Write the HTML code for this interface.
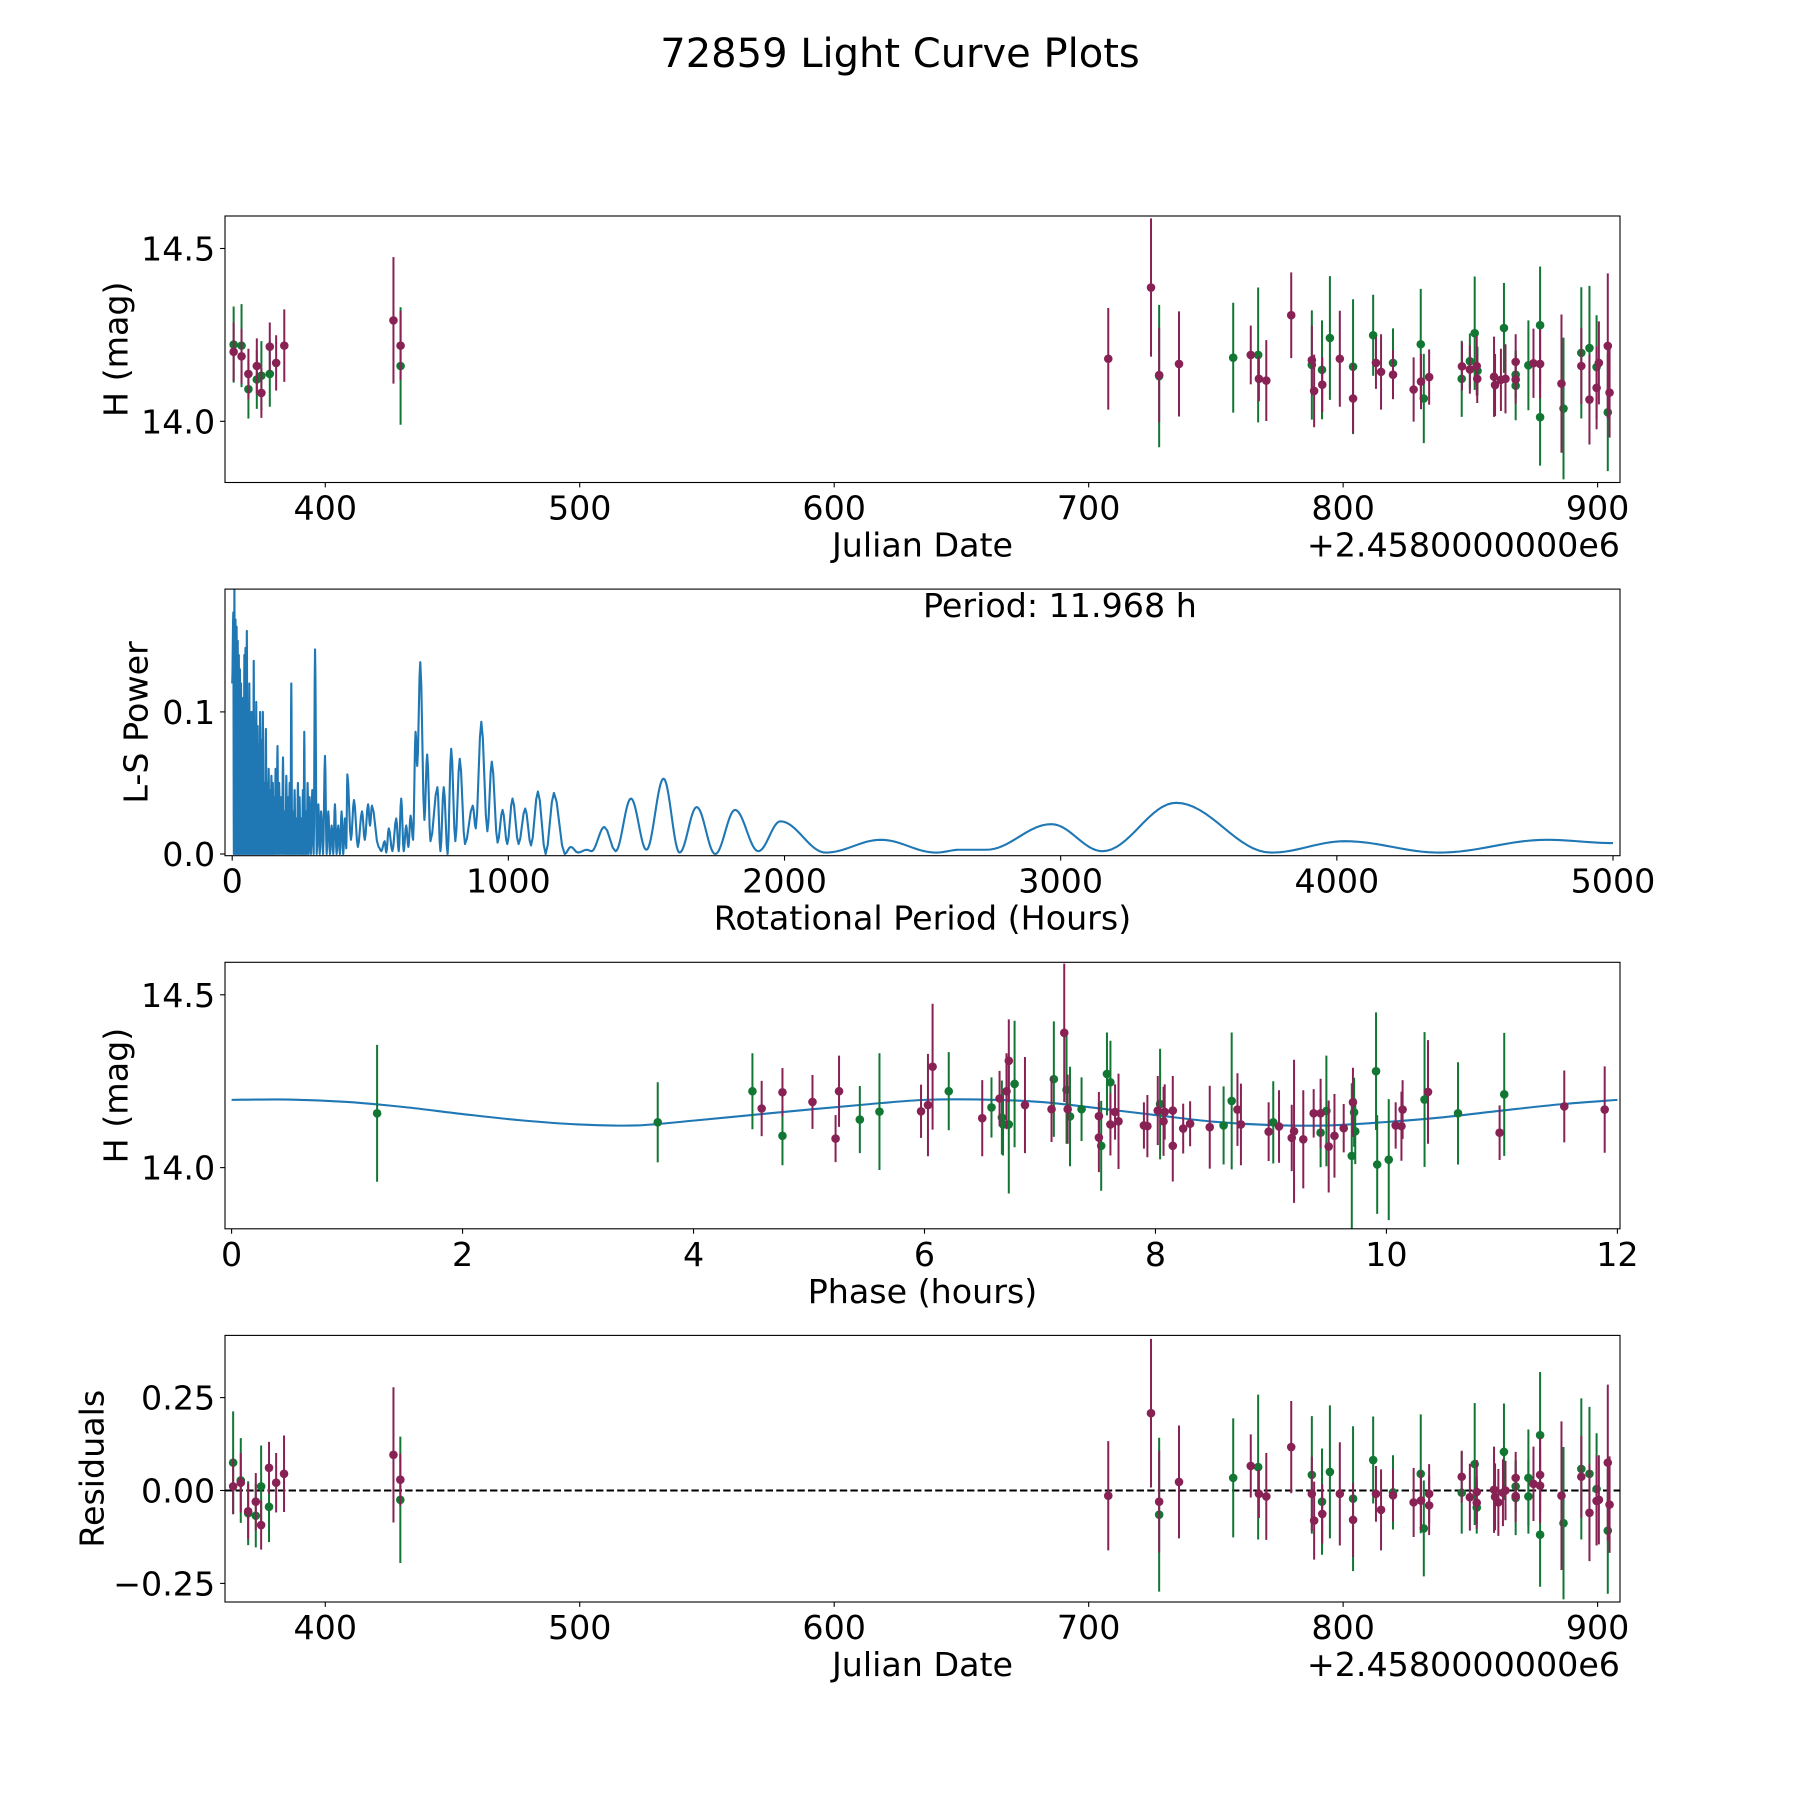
<!DOCTYPE html>
<html><head><meta charset="utf-8"><title>72859 Light Curve Plots</title>
<style>
html,body{margin:0;padding:0;background:#fff;}
svg{display:block;font-family:"DejaVu Sans","Liberation Sans",sans-serif;}
</style></head>
<body>
<svg id="fig" width="1800" height="1800" viewBox="0 0 1800 1800" xmlns="http://www.w3.org/2000/svg">
<rect width="1800" height="1800" fill="#fff"/>
<text x="900" y="67" font-size="40" text-anchor="middle" fill="#000">72859 Light Curve Plots</text>
</svg>
<script>
// ---------- Panel 1: light curve (Julian date) ----------
const p1Days = [364.0,364.0,367.1,367.1,369.8,369.8,373.1,373.1,374.9,374.9,378.2,378.2,380.7,383.9,426.8,429.6,429.6,
707.7,724.5,727.7,727.7,735.5,756.8,763.7,766.6,766.9,769.8,779.6,787.7,787.7,788.6,791.7,791.8,794.8,798.7,803.9,803.9,
811.8,812.9,814.9,819.6,819.6,827.7,830.5,830.6,831.7,833.8,846.6,846.7,849.8,849.8,851.7,852.5,852.8,852.7,859.3,859.7,
862.0,863.2,863.8,867.8,867.8,867.8,867.8,872.8,874.8,877.4,877.4,877.4,885.8,886.6,893.6,893.6,896.8,896.8,899.6,899.6,
900.5,904.0,904.0,904.7];
const p1Mags = [14.222,14.201,14.219,14.188,14.137,14.093,14.160,14.121,14.132,14.082,14.137,14.216,14.169,14.219,14.292,14.219,14.160,
14.181,14.387,14.131,14.134,14.166,14.184,14.192,14.192,14.123,14.118,14.307,14.163,14.177,14.088,14.149,14.106,14.241,14.181,14.158,14.066,
14.249,14.169,14.143,14.169,14.135,14.092,14.223,14.115,14.066,14.128,14.123,14.159,14.174,14.150,14.255,14.160,14.146,14.123,14.129,14.105,
14.120,14.270,14.123,14.172,14.135,14.121,14.103,14.162,14.168,14.278,14.012,14.166,14.109,14.037,14.198,14.160,14.212,14.063,14.157,14.097,
14.169,14.218,14.026,14.083];
const p1Errs = [0.11,0.085,0.12,0.08,0.073,0.085,0.08,0.085,0.10,0.072,0.095,0.07,0.08,0.105,0.183,0.10,0.17,
0.147,0.20,0.206,0.137,0.152,0.159,0.085,0.195,0.065,0.117,0.124,0.158,0.10,0.105,0.143,0.08,0.179,0.139,0.195,0.10,
0.117,0.075,0.109,0.10,0.071,0.093,0.16,0.08,0.129,0.08,0.11,0.07,0.08,0.07,0.164,0.086,0.07,0.07,0.116,0.09,
0.09,0.13,0.10,0.08,0.07,0.07,0.10,0.13,0.10,0.17,0.14,0.10,0.20,0.205,0.19,0.11,0.18,0.13,0.15,0.12,
0.12,0.21,0.17,0.13];
const p1Filters = ['g','m','g','m','m','g','m','g','g','m','g','m','m','m','m','m','g',
'm','m','g','m','m','g','m','g','m','m','m','g','m','m','g','m','g','m','g','m',
'g','m','m','g','m','m','g','m','g','m','g','m','g','m','g','m','g','m','m','m',
'm','g','m','m','g','m','g','g','m','g','g','m','m','g','g','m','g','m','g','m',
'm','m','g','m'];
const p1XTicks = [400,500,600,700,800,900];
const p1YTicks = [14.0,14.5];
const p1YTickLabels = ['14.0','14.5'];

// ---------- Panel 2: Lomb-Scargle periodogram ----------
const lsDensePeriods = [4,8,12,16,20,24,28,32,36,40,44,48,53,58,62,66,70,74,78,82,87,92,97,101,106,111,116,122,127,132,137,142,147,152,157,164,170,176,184,190,196,202,208,214,220,226,232,238,244,250,256,261,267,273,280,290,300,312,322,336,348,360,372,384,396,408];
const lsDensePowers = [0.17,0.19,0.165,0.16,0.15,0.14,0.13,0.12,0.10,0.11,0.14,0.145,0.157,0.09,0.12,0.08,0.10,0.07,0.136,0.06,0.107,0.09,0.06,0.10,0.08,0.10,0.05,0.088,0.05,0.06,0.045,0.055,0.05,0.04,0.06,0.076,0.05,0.04,0.068,0.03,0.055,0.04,0.05,0.12,0.03,0.045,0.025,0.05,0.04,0.025,0.045,0.086,0.03,0.05,0.04,0.045,0.144,0.035,0.03,0.069,0.03,0.02,0.035,0.02,0.03,0.025];
const lsSmoothPeriods = [413,417,430,441,455,470,480,492,499,506,530,540,552,558,567,580,594,603,612,621,630,638,646,655,664,670,681,696,706,718,743,754,766,780,793,808,824,843,871,882,902,924,940,961,979,996,1015,1037,1061,1082,1107,1135,1165,1204,1226,1252,1284,1301,1348,1388,1444,1500,1562,1620,1682,1749,1821,1905,1985,2149,2349,2549,2635,2731,2966,3151,3418,3762,4029,4372,4760,5000];
const lsSmoothPowers = [0.004,0.056,0.01,0.038,0.005,0.03,0.01,0.035,0.02,0.034,0.005,0.002,0.009,0.001,0.018,0.002,0.025,0.002,0.039,0.002,0.02,0.005,0.027,0.01,0.086,0.062,0.135,0.024,0.07,0.009,0.047,0.002,0.047,0.0,0.074,0.009,0.067,0.007,0.034,0.018,0.093,0.016,0.065,0.008,0.031,0.007,0.039,0.007,0.032,0.006,0.044,0.0,0.043,0.0,0.005,0.001,0.003,0.002,0.019,0.002,0.039,0.003,0.053,0.001,0.033,0.0,0.031,0.002,0.023,0.001,0.010,0.001,0.003,0.003,0.021,0.002,0.036,0.001,0.009,0.001,0.010,0.0077];
const p2XTicks = [0,1000,2000,3000,4000,5000];
const p2YTicks = [0.0,0.1];
const p2YTickLabels = ['0.0','0.1'];

// ---------- Panel 3: phased light curve ----------
const p3Phases = [1.26,3.69,4.51,4.59,4.77,4.77,5.03,5.23,5.26,5.44,5.61,
5.97,6.03,6.07,6.21,6.50,6.58,6.65,6.67,6.68,6.71,6.73,6.73,6.78,6.87,7.10,7.12,7.21,7.23,7.24,7.26,7.36,7.51,7.51,7.53,7.58,7.61,7.61,7.65,7.68,
7.90,7.93,8.02,8.04,8.07,8.08,8.15,8.15,8.24,8.30,8.47,8.59,8.66,8.71,8.74,8.98,9.02,9.07,9.18,9.20,9.28,9.37,9.43,9.43,9.48,9.50,9.55,9.63,
9.70,9.71,9.72,9.73,9.91,9.92,10.02,10.08,10.13,10.14,10.33,10.36,10.62,10.98,11.02,11.54,11.89];
const p3Mags = [14.157,14.131,14.221,14.171,14.218,14.092,14.190,14.084,14.221,14.139,14.162,
14.163,14.181,14.292,14.221,14.143,14.174,14.200,14.145,14.125,14.221,14.309,14.125,14.242,14.181,14.169,14.256,14.390,14.225,14.169,14.148,14.169,14.149,14.087,14.063,14.271,14.247,14.125,14.161,14.134,
14.122,14.120,14.165,14.184,14.134,14.161,14.165,14.063,14.113,14.127,14.117,14.122,14.193,14.168,14.125,14.104,14.131,14.119,14.086,14.105,14.082,14.157,14.101,14.157,14.164,14.061,14.092,14.114,
14.034,14.189,14.160,14.105,14.279,14.009,14.023,14.122,14.120,14.168,14.197,14.219,14.157,14.101,14.212,14.177,14.168];
const p3Errs = [0.198,0.116,0.11,0.08,0.07,0.085,0.078,0.068,0.103,0.097,0.169,
0.077,0.148,0.182,0.113,0.11,0.087,0.08,0.107,0.09,0.11,0.12,0.20,0.183,0.139,0.095,0.167,0.20,0.156,0.10,0.144,0.092,0.07,0.10,0.13,0.12,0.12,0.09,0.08,0.138,
0.067,0.09,0.10,0.16,0.10,0.08,0.10,0.103,0.072,0.065,0.12,0.113,0.198,0.105,0.118,0.085,0.119,0.105,0.096,0.207,0.142,0.07,0.10,0.10,0.16,0.133,0.121,0.07,
0.21,0.10,0.10,0.095,0.17,0.143,0.175,0.067,0.10,0.085,0.195,0.15,0.148,0.079,0.178,0.104,0.125];
const p3Filters = ['g','g','g','m','m','g','m','m','m','g','g',
'm','m','m','g','m','g','m','g','g','m','m','g','g','m','m','g','m','g','m','g','g','m','m','g','g','g','m','m','m',
'm','m','m','g','m','m','m','m','m','m','m','g','g','m','m','m','g','m','m','m','m','m','g','m','g','m','m','m',
'g','m','g','g','g','g','g','m','m','m','g','m','g','m','g','m','m'];
const modelPhases = [0,0.5,1,1.5,2,2.5,3,3.5,4,4.5,5,5.5,6,6.5,7,7.5,8,8.5,9,9.5,10,10.5,11,11.5,12];
const modelMags = [14.196,14.197,14.190,14.175,14.155,14.137,14.125,14.122,14.136,14.152,14.168,14.183,14.196,14.197,14.190,14.172,14.152,14.133,14.123,14.122,14.132,14.146,14.165,14.183,14.196];
const p3XTicks = [0,2,4,6,8,10,12];
const p3YTicks = [14.0,14.5];
const p3YTickLabels = ['14.0','14.5'];

// ---------- Panel 4: residuals ----------
const p4Days = [363.8,363.8,366.8,366.8,369.7,369.7,372.7,372.7,374.8,374.8,377.9,377.9,380.7,383.8,426.8,429.5,429.5,
707.7,724.5,727.7,727.7,735.5,756.8,763.7,766.6,766.9,769.8,779.6,787.7,787.7,788.6,791.7,791.8,794.8,798.7,803.9,803.9,
811.8,812.9,814.9,819.6,819.6,827.7,830.5,830.6,831.7,833.8,833.8,846.6,846.6,849.8,851.7,852.5,852.5,852.5,859.3,859.7,
861.0,862.8,863.2,863.8,867.8,867.8,867.8,867.8,872.8,872.8,874.8,877.4,877.4,877.4,877.4,885.8,886.6,893.6,893.6,896.8,896.8,
899.6,899.6,900.5,904.0,904.0,904.7];
const p4Resid = [0.075,0.011,0.027,0.021,-0.061,-0.056,-0.030,-0.068,0.011,-0.093,0.061,-0.044,0.021,0.045,0.096,0.029,-0.025,
-0.014,0.208,-0.030,-0.065,0.023,0.034,0.066,0.063,-0.009,-0.016,0.117,0.042,-0.009,-0.081,-0.030,-0.063,0.050,-0.009,-0.022,-0.079,
0.082,-0.009,-0.052,-0.005,-0.013,-0.032,0.045,-0.027,-0.102,-0.009,-0.040,0.037,-0.006,-0.018,0.071,-0.004,-0.033,-0.046,0.002,-0.017,
-0.032,-0.006,0.104,0.000,0.034,0.011,-0.015,-0.020,0.034,-0.016,0.018,0.149,0.042,0.013,-0.119,-0.014,-0.088,0.058,0.037,0.045,-0.060,
0.004,-0.028,-0.025,0.075,-0.108,-0.038];
const p4Errs = [0.138,0.075,0.114,0.08,0.086,0.075,0.077,0.085,0.11,0.066,0.07,0.095,0.08,0.103,0.182,0.07,0.17,
0.147,0.20,0.137,0.207,0.152,0.16,0.085,0.195,0.065,0.117,0.124,0.158,0.10,0.105,0.143,0.08,0.179,0.139,0.195,0.10,
0.117,0.075,0.109,0.10,0.071,0.093,0.16,0.08,0.129,0.08,0.08,0.07,0.11,0.09,0.164,0.086,0.07,0.07,0.116,0.09,
0.09,0.09,0.13,0.08,0.07,0.07,0.07,0.10,0.13,0.10,0.10,0.17,0.10,0.10,0.14,0.20,0.205,0.19,0.11,0.18,0.13,
0.15,0.12,0.12,0.21,0.17,0.13];
const p4Filters = ['g','m','g','m','g','m','m','g','g','m','m','g','m','m','m','m','g',
'm','m','m','g','m','g','m','g','m','m','m','g','m','m','g','m','g','m','g','m',
'g','m','m','g','m','m','g','m','g','m','m','m','g','m','g','m','m','g','m','m',
'm','m','g','m','m','g','m','g','g','g','m','g','m','m','g','m','g','g','m','g','m',
'g','m','m','m','g','m'];
const p4YTicks = [-0.25,0.0,0.25];
const p4YTickLabels = ['\u22120.25','0.00','0.25'];

const COLORS = {g:'#117733', m:'#882255'};
const NS = 'http://www.w3.org/2000/svg';
const svg = document.getElementById('fig');
const FS = 33.3;

function mk(tag, attrs, parent){
  const e = document.createElementNS(NS, tag);
  for (const k in attrs) e.setAttribute(k, attrs[k]);
  (parent||svg).appendChild(e);
  return e;
}
function scale(d0,d1,r0,r1){ return v => r0 + (v-d0)/(d1-d0)*(r1-r0); }

function axesFrame(name){
  const g = mk('g', {});
  
  
  return g;
}
function spines(g, L, T, R, B){
  const r = mk('rect', {x:L, y:T, width:R-L, height:B-T, fill:'none', stroke:'#000', 'stroke-width':1.1}, g);
  
  
}
function xTicks(g, ticks, labels, sx, B){
  ticks.forEach((t,i) => {
    const x = sx(t);
    const ln = mk('line', {x1:x, x2:x, y1:B, y2:B+4.9, stroke:'#000', 'stroke-width':1.1}, g);
    
    
    const tx = mk('text', {x:x, y:B+37, 'font-size':FS, 'text-anchor':'middle', fill:'#000'}, g);
    tx.textContent = labels[i];
    
    
  });
}
function yTicks(g, ticks, labels, sy, L){
  ticks.forEach((t,i) => {
    const y = sy(t);
    const ln = mk('line', {x1:L-4.9, x2:L, y1:y, y2:y, stroke:'#000', 'stroke-width':1.1}, g);
    
    
    const tx = mk('text', {x:L-9.8, y:y+12, 'font-size':FS, 'text-anchor':'end', fill:'#000'}, g);
    tx.textContent = labels[i];
    
    
  });
}
function xLabel(g, text, B, name){
  const tx = mk('text', {x:922.5, y:B+74, 'font-size':FS, 'text-anchor':'middle', fill:'#000'}, g);
  tx.textContent = text;
  
  
}
function yLabel(g, text, x, T, B, name){
  const cy = (T+B)/2;
  const tx = mk('text', {x:x, y:cy, 'font-size':FS, 'text-anchor':'middle', 'dominant-baseline':'central', fill:'#000', transform:'rotate(-90 '+x+' '+cy+')'}, g);
  tx.textContent = text;
  
  
}
function offsetText(g, B){
  const tx = mk('text', {x:1620, y:B+74, 'font-size':FS, 'text-anchor':'end', fill:'#000'}, g);
  tx.textContent = '+2.4580000000e6';
  
  
}
function clip(id, L, T, R, B){
  const cp = mk('clipPath', {id:id});
  mk('rect', {x:L, y:T, width:R-L, height:B-T}, cp);
}
function errorPoints(g, xs, ys, errs, filters, sx, sy, clipId){
  const pg = mk('g', {'clip-path':'url(#'+clipId+')'}, g);
  
  
  ['g','m'].forEach(f => {
    xs.forEach((xv,i) => {
      if (filters[i] !== f) return;
      const x = sx(xv), y1 = sy(ys[i]-errs[i]), y2 = sy(ys[i]+errs[i]);
      const eb = mk('line', {x1:x, x2:x, y1:y1, y2:y2, stroke:COLORS[f], 'stroke-width':2}, pg);
      
      
    });
    xs.forEach((xv,i) => {
      if (filters[i] !== f) return;
      const c = mk('circle', {cx:sx(xv), cy:sy(ys[i]), r:4.3, fill:COLORS[f]}, pg);
      
      
    });
  });
}

// ===== Panel 1 =====
(function(){
  const L=225,R=1620,T=216,B=482.5;
  const sx = scale(360.6, 908.8, L, R), sy = scale(13.823, 14.594, B, T);
  const g = axesFrame('light-curve-panel');
  clip('c1', L,T,R,B);
  errorPoints(g, p1Days, p1Mags, p1Errs, p1Filters, sx, sy, 'c1');
  spines(g, L,T,R,B);
  xTicks(g, p1XTicks, p1XTicks.map(String), sx, B);
  yTicks(g, p1YTicks, p1YTickLabels, sy, L);
  xLabel(g, 'Julian Date', B, 'x-axis-title-julian-date');
  offsetText(g, B);
  yLabel(g, 'H (mag)', 116, T, B, 'y-axis-title-h-mag');
})();

// ===== Panel 2 =====
(function(){
  const L=225,R=1620,T=589.1,B=855.7;
  const sx = scale(0, 5000, 232.2, 1613), sy = scale(0, 0.1, 854, 711.9);
  const g = axesFrame('periodogram-panel');
  clip('c2', L,T,R,B);
  const ex = [[0,0.12]];
  for (let i=0;i<lsDensePeriods.length;i++){
    ex.push([lsDensePeriods[i], lsDensePowers[i]]);
    if (i+1<lsDensePeriods.length) ex.push([(lsDensePeriods[i]+lsDensePeriods[i+1])/2, 0]);
  }
  for (let i=0;i<lsSmoothPeriods.length;i++) ex.push([lsSmoothPeriods[i], lsSmoothPowers[i]]);
  let d = '';
  for (let i=0;i<ex.length;i++){
    if (i===0){ d += 'M'+sx(ex[0][0]).toFixed(2)+' '+sy(ex[0][1]).toFixed(2); continue; }
    const a = ex[i-1], b = ex[i];
    const n = (b[0]-a[0]) > 40 ? 16 : 4;
    for (let k=1;k<=n;k++){
      const t = k/n, w = (1-Math.cos(Math.PI*t))/2;
      const px = a[0]+(b[0]-a[0])*t, py = a[1]+(b[1]-a[1])*w;
      d += ' L'+sx(px).toFixed(2)+' '+sy(py).toFixed(2);
    }
  }
  const cg = mk('g', {'clip-path':'url(#c2)'}, g);
  const p = mk('path', {d:d, fill:'none', stroke:'#1f77b4', 'stroke-width':2.1, 'stroke-linejoin':'round'}, cg);
  
  
  spines(g, L,T,R,B);
  xTicks(g, p2XTicks, p2XTicks.map(String), sx, B);
  yTicks(g, p2YTicks, p2YTickLabels, sy, L);
  xLabel(g, 'Rotational Period (Hours)', B, 'x-axis-title-rotational-period');
  yLabel(g, 'L-S Power', 136, T, B, 'y-axis-title-ls-power');
  const ann = mk('text', {x:923, y:617, 'font-size':FS, 'text-anchor':'start', fill:'#000'}, g);
  ann.textContent = 'Period: 11.968 h';
  
  
})();

// ===== Panel 3 =====
(function(){
  const L=225,R=1620,T=962.3,B=1228.8;
  const sx = scale(0, 12, 231.6, 1617.4), sy = scale(13.823, 14.594, B, T);
  const g = axesFrame('phase-folded-panel');
  clip('c3', L,T,R,B);
  const pts = modelPhases.map((p,i)=>[sx(p), sy(modelMags[i])]);
  let d = 'M'+pts[0][0]+' '+pts[0][1];
  for (let i=0;i<pts.length-1;i++){
    const p0 = pts[Math.max(0,i-1)], p1 = pts[i], p2 = pts[i+1], p3 = pts[Math.min(pts.length-1,i+2)];
    const c1x = p1[0]+(p2[0]-p0[0])/6, c1y = p1[1]+(p2[1]-p0[1])/6;
    const c2x = p2[0]-(p3[0]-p1[0])/6, c2y = p2[1]-(p3[1]-p1[1])/6;
    d += ' C'+c1x+' '+c1y+' '+c2x+' '+c2y+' '+p2[0]+' '+p2[1];
  }
  const cg = mk('g', {'clip-path':'url(#c3)'}, g);
  const m = mk('path', {d:d, fill:'none', stroke:'#1f77b4', 'stroke-width':2.1}, cg);
  
  
  errorPoints(g, p3Phases, p3Mags, p3Errs, p3Filters, sx, sy, 'c3');
  spines(g, L,T,R,B);
  xTicks(g, p3XTicks, p3XTicks.map(String), sx, B);
  yTicks(g, p3YTicks, p3YTickLabels, sy, L);
  xLabel(g, 'Phase (hours)', B, 'x-axis-title-phase');
  yLabel(g, 'H (mag)', 116, T, B, 'y-axis-title-h-mag-phase');
})();

// ===== Panel 4 =====
(function(){
  const L=225,R=1620,T=1335.4,B=1602;
  const sx = scale(360.6, 908.8, L, R), sy = scale(0, 0.25, 1490.5, 1397.6);
  const g = axesFrame('residuals-panel');
  clip('c4', L,T,R,B);
  const zl = mk('line', {x1:L, x2:R, y1:sy(0), y2:sy(0), stroke:'#000', 'stroke-width':2, 'stroke-dasharray':'7.4,3.2'}, g);
  
  
  errorPoints(g, p4Days, p4Resid, p4Errs, p4Filters, sx, sy, 'c4');
  spines(g, L,T,R,B);
  xTicks(g, p1XTicks, p1XTicks.map(String), sx, B);
  yTicks(g, p4YTicks, p4YTickLabels, sy, L);
  xLabel(g, 'Julian Date', B, 'x-axis-title-julian-date-residuals');
  offsetText(g, B);
  yLabel(g, 'Residuals', 92, T, B, 'y-axis-title-residuals');
})();
</script>
</body></html>
